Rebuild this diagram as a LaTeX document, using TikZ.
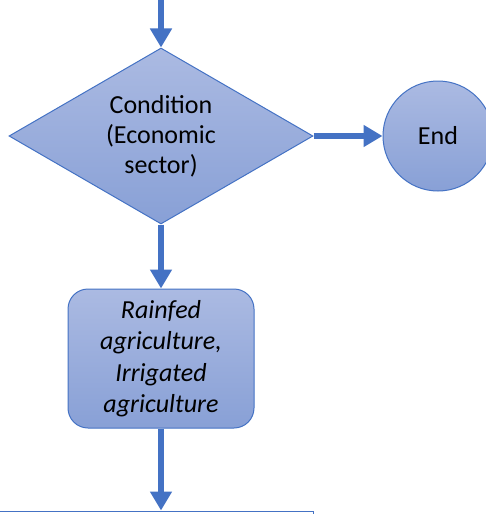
\documentclass[tikz,border=0pt]{standalone}
\usepackage{fontspec}
\setmainfont{Carlito}
\usepackage{tikz}
\usetikzlibrary{shapes.geometric,arrows.meta,positioning}

\definecolor{accent}{RGB}{68,114,196}
\definecolor{shadetop}{RGB}{171,186,226}
\definecolor{shadebot}{RGB}{136,160,214}

\begin{document}
\begin{tikzpicture}[
        every node/.style={draw=accent,line width=1pt,top color=shadetop,bottom color=shadebot,align=center,font=\fontsize{26}{30}\selectfont},
        decision/.style={diamond,aspect=1.7,inner sep=0pt,minimum width=304pt,minimum height=176pt},
        stop/.style={circle,inner sep=0pt,minimum size=110pt},
        process/.style={rectangle,rounded corners=20pt,minimum width=186pt,minimum height=139pt,font=\fontsize{26}{31.5}\selectfont\itshape},
        blank/.style={rectangle,line width=1.5pt,top color=white,bottom color=white,minimum width=340pt,minimum height=40pt,anchor=north east},
        to/.style={-{Triangle[length=19pt,width=21pt]},line width=6pt,draw=accent},
        ]
      \useasboundingbox (0,0) rectangle (486pt,-514pt);
      \coordinate (start) at (161pt,0pt);
      \node [decision] (sector) at (161pt,-136pt) {Condition\\(Economic\\sector)};
      \node [stop, right=69pt of sector] (end) {End};
      \node [process, below=64pt of sector] (crop) {Rainfed\\agriculture,\\Irrigated\\agriculture};
      \node [blank] (next) at (314pt,-510.5pt) {};

      \draw[to] (start) -- (sector);
      \draw[to] (sector) -- (end);
      \draw[to] (sector) -- (crop);
      \draw[to] (crop) -- (crop |- next.north);
    \end{tikzpicture}
\end{document}
